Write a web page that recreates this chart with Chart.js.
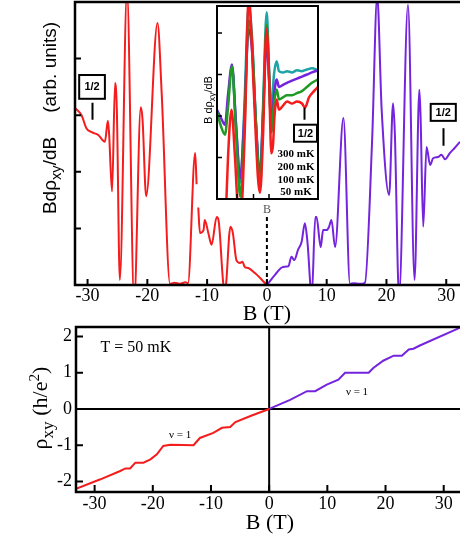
<!DOCTYPE html>
<html>
<head>
<meta charset="utf-8">
<script src="https://cdn.jsdelivr.net/npm/chart.js@4.4.1/dist/chart.umd.min.js"></script>
<style>
  html, body { margin: 0; padding: 0; background: #fff; }
  body { width: 460px; height: 536px; position: relative; overflow: hidden; }
  canvas { position: absolute; }
  .lab { position: absolute; white-space: nowrap; color: #000; transform: translate(-50%, -50%); line-height: 1; }
  .rot { transform: translate(-50%, -50%) rotate(-90deg); }
  sub { font-size: 78%; vertical-align: -0.35em; line-height: 0; }
  sup { font-size: 70%; vertical-align: 0.55em; line-height: 0; }
</style>
</head>
<body>
<canvas id="topChart" width="460" height="310" style="left:0;top:0"></canvas>
<canvas id="botChart" width="460" height="231" style="left:0;top:305px"></canvas>
<canvas id="insetChart" width="105" height="197" style="left:215px;top:4px"></canvas>

<div class="lab rot" style="left:50px;top:118px;font:19px 'Liberation Sans',Arial,sans-serif">Bdρ<sub>xy</sub>/dB<span style="margin-left:24px">(arb. units)</span></div>
<div class="lab rot" style="left:208px;top:100px;font:11px 'Liberation Sans',Arial,sans-serif">B dρ<sub>xy</sub>/dB</div>
<div class="lab" style="left:267px;top:209px;font:12px 'Liberation Serif',serif;color:#555">B</div>
<div class="lab" style="left:267px;top:313px;font:22px 'Liberation Serif',serif">B (T)</div>
<div class="lab rot" style="left:40px;top:408px;font:22px 'Liberation Serif',serif">ρ<sub>xy</sub> (h/e<sup>2</sup>)</div>
<div class="lab" style="left:270px;top:522px;font:22px 'Liberation Serif',serif">B (T)</div>

<script>
// ---- data: top panel, B dRho/dB (arb. units) vs B (T)
const topRed = [
  [-32.1, 3.13], [-31.0, 3.0], [-30.2, 2.77], [-29.3, 2.70], [-28.2, 2.65], [-27.1, 2.53],
  [-26.6, 2.9], [-26.4, 2.68], [-25.9, 1.65], [-25.4, 3.57], [-25.1, 3.09], [-24.6, 0.09],
  [-23.4, 5.2], [-22.2, -0.3], [-21.1, 3.14], [-20.8, 2.92], [-20.2, 1.57], [-18.3, 4.63],
  [-17.6, 3.39], [-16.2, 0.02], [-15.5, 0.04], [-14.5, 0.02], [-13.6, 0.05], [-13.2, 0.03],
  [-12.0, 2.33], [-11.76, 1.78], [-11.6, null], [-11.48, 1.37], [-11.2, 0.92], [-10.6, 0.97],
  [-10.4, 1.15], [-9.8, 0.92], [-9.25, 0.71], [-8.4, 1.2], [-8.1, 1.15], [-7.3, 0.03],
  [-7.0, -0.1], [-6.1, 1.03], [-5.7, 0.92], [-5.1, 0.44], [-4.5, 0.39], [-4.1, 0.41],
  [-3.7, 0.32], [-3.1, 0.30], [-2.0, 0.21], [0, 0]
];
const topPurple = [
  [0, 0], [1.35, 0.18], [2.7, 0.32], [3.6, 0.33], [4.1, 0.5], [4.6, 0.44], [5.2, 0.62],
  [5.8, 0.76], [6.35, 1.09], [6.8, 0.74], [7.5, -0.2], [8.1, 1.2], [8.3, 1.2], [9.0, 0.67],
  [9.4, 0.97], [10.0, 0.97], [10.4, 1.03], [10.8, 1.15], [11.4, 0.67], [12.8, 2.95],
  [13.9, 0.02], [14.5, 0.03], [15.5, 0.02], [16.4, 0.04], [17.6, 2.56], [18.45, 5.1],
  [19.2, 3.09], [20.45, 1.59], [21.1, 3.21], [21.4, 2.68], [22.1, -0.2], [23.6, 4.95],
  [24.7, 0.09], [25.5, 3.45], [25.7, 3.0], [26.15, 1.03], [26.7, 2.44], [27.3, 2.12],
  [27.8, 2.24], [28.6, 2.26], [29.2, 2.3], [29.8, 2.22], [30.6, 2.33], [31.4, 2.42], [32.3, 2.53]
];
const topXTicks = [-30, -20, -10, 0, 10, 20, 30];
const topYTicks = [1, 2, 3, 4];

// ---- data: inset, four temperatures (x in arbitrary B units)
const insetLabels = ['300 mK', '200 mK', '100 mK', '50 mK'];
const inset50 = [
  [9, -0.3], [11, 1.0], [14.5, 2.15], [18, 1.0], [21, -0.2], [24, -0.3], [28, 1.8], [31.5, 4.75],
  [33, 4.6], [37, 2.5], [41, 0.5], [43, 0.15], [46, 1.5], [49.5, 4.1], [52, 3.0], [54.3, 1.1],
  [56, 1.3], [57.5, 2.0], [59.7, 2.4], [62, 2.15], [66, 2.25], [70, 2.35], [75, 2.3], [80, 2.35],
  [85, 2.3], [88, 2.2], [92, 2.45], [97, 2.6], [101, 2.7]
];
const inset100 = [
  [0, 2.1], [4, 1.75], [8, 1.55], [11, 2.2], [15, 3.2], [19, 1.6], [23.3, 0.05], [27, 1.5],
  [31.7, 4.3], [35, 3.8], [39, 1.8], [43, 0.27], [46, 2.0], [49.7, 4.2], [52, 3.0], [54.3, 1.6],
  [57, 2.3], [59.7, 2.64], [62, 2.4], [66, 2.45], [70, 2.5], [75, 2.5], [80, 2.55], [85, 2.6],
  [90, 2.7], [95, 2.8], [101, 2.88]
];
const inset200 = [
  [0, 2.15], [4, 1.95], [8, 1.79], [11, 2.5], [15, 3.24], [19, 1.8], [23.3, 0.5], [27, 1.8],
  [31.7, 4.1], [35, 3.6], [39, 1.8], [43, 0.58], [46, 2.0], [49.7, 3.8], [52, 2.9], [54.3, 1.8],
  [57, 2.5], [59.7, 2.88], [62, 2.7], [66, 2.75], [70, 2.8], [75, 2.85], [80, 2.9], [85, 2.95],
  [90, 3.0], [95, 3.05], [101, 3.1]
];
const inset300 = [
  [16, 3.0], [19, 1.8], [23.3, 0.4], [27, 2.0], [31.7, 4.65], [35, 3.9], [39, 1.8], [43, 0.4],
  [46, 2.2], [49.7, 4.5], [52, 3.2], [54.3, 2.15], [57, 3.0], [59.7, 3.32], [62, 3.08], [66, 3.05],
  [70, 3.08], [75, 3.05], [80, 3.1], [85, 3.08], [90, 3.12], [95, 3.15], [101, 3.1]
];
const insetXTicks = [20, 36.5, 52];
const insetYTicks = [1, 2, 3, 4];

// ---- data: bottom panel, rho_xy (h/e^2) vs B (T)
const botRed = [
  [-33.2, -2.2], [-29.0, -1.94], [-25.6, -1.71], [-24.7, -1.64], [-23.9, -1.64], [-23.0, -1.48],
  [-21.6, -1.48], [-20.4, -1.39], [-19.3, -1.25], [-18.2, -1.02], [-17.0, -0.99], [-13.0, -1.0],
  [-11.9, -0.8], [-9.6, -0.66], [-8.1, -0.52], [-6.7, -0.5], [-5.8, -0.36], [-3, -0.18], [0, 0]
];
const botPurple = [
  [0, 0], [3.6, 0.25], [6.5, 0.49], [7.9, 0.49], [9.9, 0.67], [11.9, 0.81], [13.05, 1.0],
  [17.1, 1.0], [17.9, 1.13], [19.6, 1.33], [21.4, 1.47], [22.8, 1.47], [24.0, 1.64],
  [24.8, 1.66], [25.9, 1.75], [32.8, 2.24]
];
const botXTicks = [-30, -20, -10, 0, 10, 20, 30];
const botYTicks = [-2, -1, 0, 1, 2];

const RED = '#f41c1c', PURPLE = '#7424dc', GREEN = '#1f9a25', TEAL = '#1ea3a6';
const SERIF = "'Liberation Serif', 'Times New Roman', serif";
const SANS = "'Liberation Sans', Arial, sans-serif";

const pts = arr => arr.map(([x, y]) => ({ x, y }));
const line = (arr, color, w, smooth) => ({
  data: pts(arr), borderColor: color, borderWidth: w, pointRadius: 0, clip: 0, fill: false,
  tension: smooth ? 0.4 : 0, cubicInterpolationMode: smooth ? 'monotone' : 'default'
});
const setTicks = list => s => { s.ticks = list.map(v => ({ value: v })); };

// frame + inward ticks
const frame = {
  id: 'frame',
  afterDraw(chart, args, o) {
    const { ctx, chartArea: a, scales: { x, y } } = chart;
    ctx.save();
    ctx.strokeStyle = '#000';
    ctx.lineWidth = o.lw;
    ctx.beginPath();
    x.ticks.forEach(t => {
      const px = x.getPixelForValue(t.value);
      ctx.moveTo(px, a.bottom); ctx.lineTo(px, a.bottom - o.tick);
    });
    y.ticks.forEach(t => {
      const py = y.getPixelForValue(t.value);
      ctx.moveTo(a.left, py); ctx.lineTo(a.left + o.tick, py);
    });
    ctx.stroke();
    ctx.lineWidth = o.bw;
    ctx.beginPath();
    if (o.full) {
      ctx.rect(a.left, a.top, a.right - a.left, a.bottom - a.top);
    } else {
      ctx.moveTo(a.right + 5, a.top); ctx.lineTo(a.left, a.top);
      ctx.lineTo(a.left, a.bottom); ctx.lineTo(a.right + 5, a.bottom);
    }
    ctx.stroke();
    ctx.restore();
  }
};

function halfBox(ctx, x, y, x0, x1, y0, y1, lx, ly0, ly1) {
  const L = x.getPixelForValue(x0), R = x.getPixelForValue(x1);
  const T = y.getPixelForValue(y0), B = y.getPixelForValue(y1);
  ctx.save();
  ctx.strokeStyle = '#000';
  ctx.lineWidth = 2;
  ctx.strokeRect(L, T, R - L, B - T);
  ctx.fillStyle = '#000';
  ctx.font = 'bold 11px ' + SANS;
  ctx.textAlign = 'center';
  ctx.textBaseline = 'middle';
  ctx.fillText('1/2', (L + R) / 2, (T + B) / 2 + 0.5);
  const lxp = Math.round(x.getPixelForValue(lx)) + 0.5;
  ctx.beginPath();
  ctx.moveTo(lxp, y.getPixelForValue(ly0));
  ctx.lineTo(lxp, y.getPixelForValue(ly1));
  ctx.stroke();
  ctx.restore();
}

const topExtras = {
  id: 'topExtras',
  afterDraw(chart) {
    const { ctx, scales: { x, y } } = chart;
    halfBox(ctx, x, y, -31.4, -27.1, 3.71, 3.29, -29.3, 3.22, 2.92);
    halfBox(ctx, x, y, 27.4, 31.6, 3.2, 2.9, 29.4, 2.77, 2.46);
    ctx.save();
    ctx.strokeStyle = '#000';
    ctx.lineWidth = 2;
    ctx.setLineDash([4, 3]);
    ctx.beginPath();
    const px = x.getPixelForValue(0);
    ctx.moveTo(px, y.getPixelForValue(1.2));
    ctx.lineTo(px, y.getPixelForValue(0));
    ctx.stroke();
    ctx.restore();
  }
};

new Chart(document.getElementById('topChart'), {
  type: 'line',
  data: { datasets: [line(topRed, RED, 2, true), line(topPurple, PURPLE, 2, true)] },
  options: {
    responsive: false, animation: false, events: [], devicePixelRatio: 1,
    layout: { padding: { top: 2, left: 0, right: 0, bottom: 0 } },
    plugins: { legend: { display: false }, tooltip: { enabled: false },
      frame: { lw: 2, bw: 2.5, tick: 6, full: false } },
    scales: {
      x: {
        type: 'linear', min: -32.1, max: 32.3,
        afterBuildTicks: setTicks(topXTicks),
        afterFit: s => { s.height = 25; },
        grid: { display: false, drawTicks: false }, border: { display: false },
        ticks: { color: '#000', font: { family: SERIF, size: 18 }, padding: 0, autoSkip: false, maxRotation: 0 }
      },
      y: {
        type: 'linear', min: 0, max: 5,
        afterBuildTicks: setTicks(topYTicks),
        afterFit: s => { s.width = 75; },
        grid: { display: false, drawTicks: false }, border: { display: false },
        ticks: { display: false }
      }
    }
  },
  plugins: [frame, topExtras]
});

const insetExtras = {
  id: 'insetExtras',
  beforeDraw(chart) {
    const { ctx, chartArea: a } = chart;
    ctx.save();
    ctx.fillStyle = '#fff';
    ctx.fillRect(a.left, a.top, a.right - a.left, a.bottom - a.top);
    ctx.restore();
  },
  afterDraw(chart) {
    const { ctx, scales: { x, y } } = chart;
    halfBox(ctx, x, y, 77, 100, 1.79, 1.38, 87, 2.2, 1.91);
    ctx.save();
    ctx.fillStyle = '#000';
    ctx.font = 'bold 11px ' + SERIF;
    ctx.textAlign = 'center';
    ctx.textBaseline = 'middle';
    const rows = [1.07, 0.77, 0.46, 0.17];
    insetLabels.forEach((t, i) => ctx.fillText(t, x.getPixelForValue(79), y.getPixelForValue(rows[i])));
    ctx.restore();
  }
};

new Chart(document.getElementById('insetChart'), {
  type: 'line',
  data: { datasets: [line(inset50, RED, 2.5, true), line(inset100, GREEN, 2.5, true), line(inset200, PURPLE, 2.5, true), line(inset300, TEAL, 2.5, true)] },
  options: {
    responsive: false, animation: false, events: [], devicePixelRatio: 1,
    layout: { padding: 2 },
    plugins: { legend: { display: false }, tooltip: { enabled: false },
      frame: { lw: 1.5, bw: 2, tick: 5, full: true } },
    scales: {
      x: {
        type: 'linear', min: 0, max: 101,
        afterBuildTicks: setTicks(insetXTicks),
        afterFit: s => { s.height = 0; },
        grid: { display: false, drawTicks: false }, border: { display: false },
        ticks: { display: false }
      },
      y: {
        type: 'linear', min: 0, max: 4.65,
        afterBuildTicks: setTicks(insetYTicks),
        afterFit: s => { s.width = 0; },
        grid: { display: false, drawTicks: false }, border: { display: false },
        ticks: { display: false }
      }
    }
  },
  plugins: [insetExtras, frame]
});

const botExtras = {
  id: 'botExtras',
  beforeDatasetsDraw(chart) {
    const { ctx, chartArea: a, scales: { x, y } } = chart;
    ctx.save();
    ctx.strokeStyle = '#000';
    ctx.lineWidth = 2;
    ctx.beginPath();
    const px = x.getPixelForValue(0), py = y.getPixelForValue(0);
    ctx.moveTo(px, a.top); ctx.lineTo(px, a.bottom);
    ctx.moveTo(a.left, py); ctx.lineTo(a.right, py);
    ctx.stroke();
    ctx.restore();
  },
  afterDraw(chart) {
    const { ctx, scales: { x, y } } = chart;
    ctx.save();
    ctx.fillStyle = '#000';
    ctx.textBaseline = 'middle';
    ctx.font = '16px ' + SERIF;
    ctx.fillText('T = 50 mK', x.getPixelForValue(-29.0), y.getPixelForValue(1.68));
    ctx.font = '11px ' + SERIF;
    ctx.textAlign = 'center';
    ctx.fillText('ν = 1', x.getPixelForValue(-15.3), y.getPixelForValue(-0.72));
    ctx.fillText('ν = 1', x.getPixelForValue(15.1), y.getPixelForValue(0.47));
    ctx.restore();
  }
};

new Chart(document.getElementById('botChart'), {
  type: 'line',
  data: { datasets: [line(botRed, RED, 2, false), line(botPurple, PURPLE, 2, false)] },
  options: {
    responsive: false, animation: false, events: [], devicePixelRatio: 1,
    layout: { padding: { top: 22, left: 0, right: 0, bottom: 0 } },
    plugins: { legend: { display: false }, tooltip: { enabled: false },
      frame: { lw: 2, bw: 2.5, tick: 7, full: false } },
    scales: {
      x: {
        type: 'linear', min: -33.2, max: 32.8,
        afterBuildTicks: setTicks(botXTicks),
        afterFit: s => { s.height = 44; },
        grid: { display: false, drawTicks: false }, border: { display: false },
        ticks: { color: '#000', font: { family: SERIF, size: 18 }, padding: 1, autoSkip: false, maxRotation: 0 }
      },
      y: {
        type: 'linear', min: -2.29, max: 2.26,
        afterBuildTicks: setTicks(botYTicks),
        afterFit: s => { s.width = 76; },
        grid: { display: false, drawTicks: false }, border: { display: false },
        ticks: { color: '#000', font: { family: SERIF, size: 18 }, padding: 4, autoSkip: false }
      }
    }
  },
  plugins: [frame, botExtras]
});
</script>
</body>
</html>
